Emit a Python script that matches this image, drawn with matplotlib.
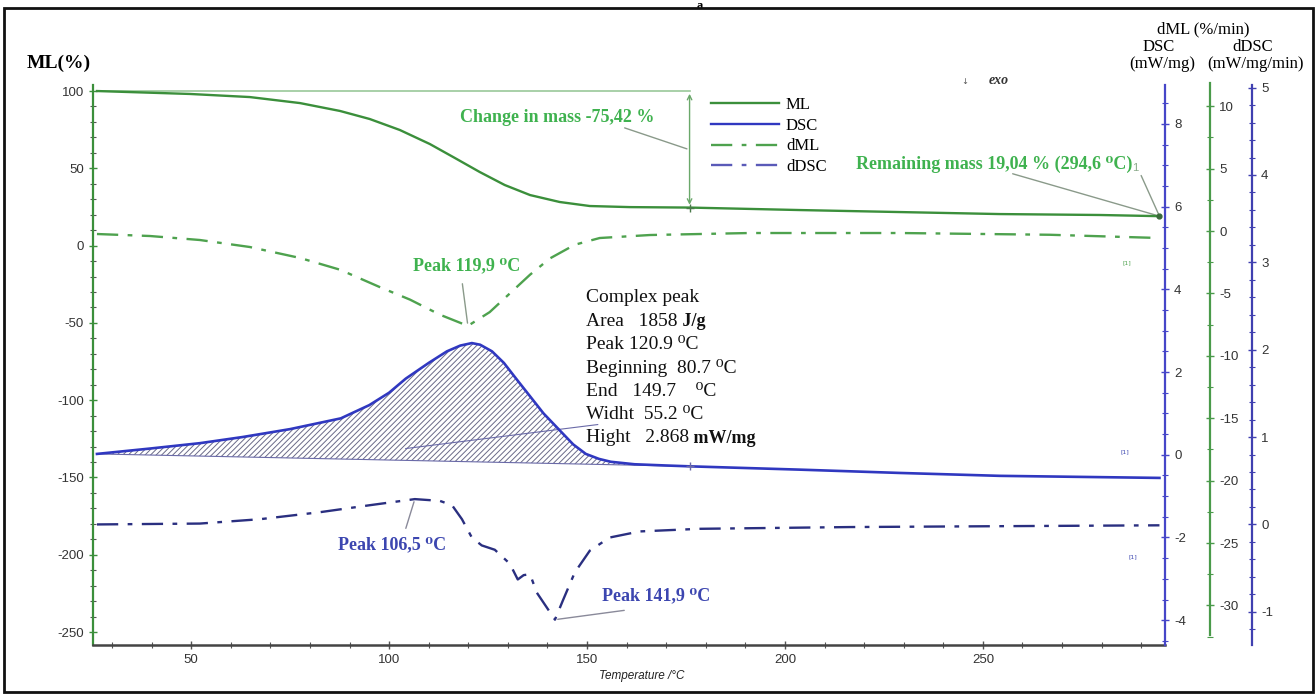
import matplotlib
matplotlib.use('Agg')
import matplotlib.pyplot as plt
import numpy as np
from matplotlib.ticker import MultipleLocator, FuncFormatter
from matplotlib.lines import Line2D
from matplotlib.patches import Rectangle

plt.rcParams['hatch.linewidth'] = 0.7

# ---------------- data ----------------
ml_T = [26.2, 49.7, 64.8, 77.5, 87.6, 95.1, 102.7, 110.3, 116.6, 122.9, 129.2,
        135.6, 143.1, 150.7, 160.8, 175.9, 203.7, 229.0, 254.2, 279.5, 294.6]
ml_val = [100.0, 98.1, 96.1, 92.2, 87.1, 81.9, 74.8, 65.7, 56.7, 47.6, 39.2,
          32.7, 28.2, 25.6, 24.9, 24.6, 23.0, 21.7, 20.4, 19.8, 19.04]

dml_T = [26.2, 39.6, 52.2, 64.8, 77.5, 87.6, 97.7, 105.3, 112.8, 119.9, 125.4,
         130.5, 135.6, 140.6, 146.9, 153.2, 165.9, 191.1, 229.0, 266.9, 294.6]
dml_val = [-0.24, -0.4, -0.72, -1.28, -2.16, -3.1, -4.5, -5.5, -6.7, -7.6, -6.5,
           -5.0, -3.5, -2.2, -1.1, -0.56, -0.32, -0.16, -0.16, -0.3, -0.56]

dsc_T = [26.2, 39.6, 52.2, 63.1, 75.0, 87.8, 95.0, 100.0, 104.2, 110.0, 114.6,
         118.0, 120.9, 123.0, 126.0, 129.0, 132.0, 135.3, 139.0, 143.4, 146.5,
         149.7, 153.0, 156.0, 162.0, 170.0, 175.9, 203.7, 229.0, 254.2, 294.6]
dsc_val = [0.02, 0.15, 0.28, 0.43, 0.62, 0.88, 1.2, 1.5, 1.84, 2.22, 2.5,
           2.64, 2.7, 2.66, 2.5, 2.22, 1.85, 1.45, 1.0, 0.56, 0.25,
           0.02, -0.1, -0.17, -0.23, -0.26, -0.28, -0.36, -0.44, -0.51, -0.56]

ddsc_T = [26.2, 52.2, 67.4, 82.5, 95.1, 106.5, 112.8, 115.9, 118.4, 120.9, 123.4,
          126.7, 130.5, 132.5, 134.0, 135.6, 137.3, 141.9, 143.9, 146.9, 150.7,
          155.7, 163.3, 178.5, 216.4, 254.2, 294.6]
ddsc_val = [0.0, 0.01, 0.06, 0.14, 0.22, 0.29, 0.27, 0.22, 0.06, -0.15, -0.24,
            -0.29, -0.45, -0.63, -0.58, -0.57, -0.78, -1.09, -0.87, -0.55, -0.30,
            -0.15, -0.08, -0.05, -0.03, -0.02, -0.01]

peak_text = ["Complex peak", "Area   1858", "Peak 120.9 \u2070C", "Beginning  80.7 \u2070C",
             "End   149.7    \u2070C", "Widht  55.2 \u2070C", "Hight   2.868"]

# ---------------- layout helpers ----------------
W, H = 1316, 695
fig = plt.figure(figsize=(W / 100, H / 100), dpi=100)

def fx(x):
    return x / W

def fy(y):
    return 1 - y / H

def fp(x, y):
    return (fx(x), fy(y))

SERIF = ['Liberation Serif', 'DejaVu Serif']
SANS = ['Liberation Sans', 'DejaVu Sans']
GREEN_L = '#3b8f3b'
GREEN_D = '#4ea24e'
GREEN_T = '#3fb24f'
BLUE = '#3038c0'
NAVY = '#2a2f80'
BLUE_T = '#3c46b0'

ax = fig.add_axes([fx(93), fy(645), fx(1165) - fx(93), fy(85) - fy(645)])
ax.set_xlim(25.2, 296)
ax.set_ylim(-258.4, 103.9)
ax.patch.set_alpha(0)

fmt = FuncFormatter(lambda v, p: f"{v:g}")

for s in ['top', 'right']:
    ax.spines[s].set_visible(False)
ax.spines['left'].set_color(GREEN_L)
ax.spines['left'].set_linewidth(1.6)
ax.spines['bottom'].set_color('#444444')
ax.spines['bottom'].set_linewidth(1.8)
ax.yaxis.set_major_locator(MultipleLocator(50))
ax.yaxis.set_minor_locator(MultipleLocator(10))
ax.xaxis.set_major_locator(MultipleLocator(50))
ax.xaxis.set_minor_locator(MultipleLocator(10))
ax.yaxis.set_major_formatter(fmt)
ax.xaxis.set_major_formatter(fmt)
ax.tick_params(axis='both', which='major', direction='inout', length=6, width=1,
               labelsize=9.5, labelcolor='#333333', colors='#555555')
ax.tick_params(axis='both', which='minor', direction='inout', length=4, width=0.8,
               colors='#555555')
ax.tick_params(axis='y', colors=GREEN_L, labelcolor='#333333')
for lab in ax.get_xticklabels() + ax.get_yticklabels():
    lab.set_family(SANS)

def setup_twin(tw, color, pos, lo, hi, major, minor, bounds=None):
    for s in ['left', 'top', 'bottom']:
        tw.spines[s].set_visible(False)
    tw.spines['right'].set_color(color)
    tw.spines['right'].set_linewidth(1.6)
    if pos is not None:
        tw.spines['right'].set_position(('axes', pos))
    if bounds is not None:
        tw.spines['right'].set_bounds(*bounds)
    tw.set_ylim(lo, hi)
    tw.yaxis.set_major_locator(MultipleLocator(major))
    tw.yaxis.set_minor_locator(MultipleLocator(minor))
    tw.yaxis.set_major_formatter(fmt)
    tw.tick_params(axis='y', which='major', direction='inout', length=6, width=1,
                   colors=color, labelcolor='#333333', labelsize=9.5)
    tw.tick_params(axis='y', which='minor', direction='inout', length=4, width=0.8,
                   colors=color)
    for lab in tw.get_yticklabels():
        lab.set_family(SANS)
    tw.patch.set_alpha(0)

ax_dsc = ax.twinx()
setup_twin(ax_dsc, '#4646c8', None, -4.6, 8.94, 2, 0.5)
ax_dml = ax.twinx()
setup_twin(ax_dml, '#4a9a4a', 1 + 45 / 1072, -33.17, 11.7, 5, 2.5, bounds=(-32.4, 11.9))
ax_ddsc = ax.twinx()
setup_twin(ax_ddsc, '#4040b0', 1 + 87 / 1072, -1.38, 5.03, 1, 0.2)

# ---------------- curves ----------------
dash_dot = (0, (9, 4, 2, 4))
ax.plot(ml_T, ml_val, color=GREEN_L, lw=1.7, zorder=5)
ax_dml.plot(dml_T, dml_val, color=GREEN_D, lw=1.7, ls=dash_dot, zorder=5)
ax_ddsc.plot(ddsc_T, ddsc_val, color=NAVY, lw=1.7, ls=dash_dot, zorder=5)
ax_dsc.plot(dsc_T, dsc_val, color=BLUE, lw=1.9, zorder=5)

# hatched peak area between DSC and straight baseline
t0, t1 = dsc_T[0], 175.9
b0, b1 = dsc_val[0], -0.28
Tf = np.array([t for t in dsc_T if t <= t1])
Vf = np.interp(Tf, dsc_T, dsc_val)
base = b0 + (b1 - b0) * (Tf - t0) / (t1 - t0)
ax_dsc.fill_between(Tf, Vf, base, facecolor='none', edgecolor='#6a6a88',
                    hatch='/' * 6, lw=0, zorder=3)
ax_dsc.plot([t0, t1], [b0, b1], color='#6a6aa8', lw=0.8, zorder=4)
ax_dsc.plot([104.2, 152.7], [0.15, 0.73], color='#6a6aa8', lw=0.8, zorder=4)
ax_dsc.plot([t1], [b1], marker='+', color='#6a6aa8', ms=6, zorder=6)

# reference line and change-in-mass arrow
ax.plot([ml_T[0], 175.9], [100, 100], color='#9ac89a', lw=1.2, zorder=2)
ax.annotate('', xy=(175.9, 24.6), xytext=(175.9, 100),
            arrowprops=dict(arrowstyle='<->', color='#6aa86a', lw=1.0,
                            mutation_scale=8), zorder=4)
ax.plot([175.9], [24.6], marker='+', color='#4a7a4a', ms=6, zorder=6)
ax.plot([ml_T[-1]], [ml_val[-1]], marker='o', color='#3a6a3a', ms=3.5, zorder=6)

# ---------------- legend ----------------
handles = [Line2D([], [], color=GREEN_L, lw=1.7),
           Line2D([], [], color=BLUE, lw=1.7),
           Line2D([], [], color=GREEN_D, lw=1.7, ls=dash_dot),
           Line2D([], [], color='#5a5ab8', lw=1.7, ls=dash_dot)]
leg = ax.legend(handles, ['ML', 'DSC', 'dML', 'dDSC'], loc='upper left',
                bbox_to_anchor=fp(711, 97), bbox_transform=fig.transFigure,
                frameon=False, borderpad=0, borderaxespad=0, handlelength=4.1,
                handletextpad=0.4, labelspacing=0.28,
                prop={'family': SERIF, 'size': 12})
leg.set_zorder(10)

# ---------------- annotations ----------------
bold_green = dict(color=GREEN_T, fontweight='bold', family=SERIF, fontsize=13)
bold_blue = dict(color=BLUE_T, fontweight='bold', family=SERIF, fontsize=13)
lead = dict(arrowstyle='-', color='#8a9a8a', lw=1.0)
lead_b = dict(arrowstyle='-', color='#8a8a9a', lw=1.0)

fig.text(*fp(460, 117), 'Change in mass -75,42 %', va='center', ha='left', **bold_green)
ax.annotate('', xy=(175.9, 62), xycoords='data', xytext=fp(622, 127),
            textcoords='figure fraction', arrowprops=lead)

rem = fig.text(*fp(856, 164), 'Remaining mass 19,04 % (294,6 \u2070C)', va='center',
               ha='left', **bold_green)
ax.annotate('', xy=(ml_T[-1], ml_val[-1]), xytext=fp(1010, 173),
            textcoords='figure fraction', arrowprops=lead)
ax.annotate('', xy=(ml_T[-1], ml_val[-1]), xytext=fp(1140, 173),
            textcoords='figure fraction', arrowprops=lead)

fig.text(*fp(413, 266), 'Peak 119,9 \u2070C', va='center', ha='left', **bold_green)
ax_dml.annotate('', xy=(119.9, -7.6), xytext=fp(462, 281),
                textcoords='figure fraction', arrowprops=lead)

fig.text(*fp(338, 545), 'Peak 106,5 \u2070C', va='center', ha='left', **bold_blue)
ax_ddsc.annotate('', xy=(106.5, 0.29), xytext=fp(405, 531),
                 textcoords='figure fraction', arrowprops=lead_b)

fig.text(*fp(602, 596), 'Peak 141,9 \u2070C', va='center', ha='left', **bold_blue)
ax_ddsc.annotate('', xy=(141.9, -1.09), xytext=fp(627, 610),
                 textcoords='figure fraction', arrowprops=lead_b)

# complex peak block
block = []
for i, line in enumerate(peak_text):
    block.append(fig.text(*fp(586, 298 + i * 23.3), line, va='center', ha='left',
                          family=SERIF, fontsize=14, color='#111111'))

fig.canvas.draw()
rend = fig.canvas.get_renderer()

def after(t, s, y, **kw):
    bb = t.get_window_extent(rend)
    fig.text(bb.x1 / W, fy(y), s, va='center', ha='left', **kw)

after(block[1], ' J/g', 298 + 23.3, family=SERIF, fontsize=13, fontweight='bold',
      color='#111111')
after(block[6], ' mW/mg', 298 + 6 * 23.3 + 1, family=SERIF, fontsize=13,
      fontweight='bold', color='#111111')
after(rem, '1', 168, color='#8aaa8a', fontsize=8, family=SANS)

# small [1] markers
fig.text(*fp(1127, 263), '[1]', color=GREEN_D, fontsize=4.5, ha='center', va='center')
fig.text(*fp(1125, 452), '[1]', color=BLUE_T, fontsize=4.5, ha='center', va='center')
fig.text(*fp(1133, 557), '[1]', color=BLUE_T, fontsize=4.5, ha='center', va='center')

# axis titles
fig.text(*fp(27, 63), 'ML(%)', va='center', ha='left', family=SERIF, fontsize=14,
         fontweight='bold')
fig.text(*fp(1203, 29), 'dML (%/min)', va='center', ha='center', family=SERIF, fontsize=12)
fig.text(*fp(1159, 47), 'DSC', va='center', ha='center', family=SERIF, fontsize=12)
fig.text(*fp(1162, 64), '(mW/mg)', va='center', ha='center', family=SERIF, fontsize=12)
fig.text(*fp(1253, 47), 'dDSC', va='center', ha='center', family=SERIF, fontsize=12)
fig.text(*fp(1256, 64), '(mW/mg/min)', va='center', ha='center', family=SERIF, fontsize=12)
fig.text(*fp(642, 676), 'Temperature /\u00b0C', va='center', ha='center', family=SANS,
         fontsize=8.5, style='italic', color='#222222')
fig.text(*fp(999, 80), 'exo', va='center', ha='center', family=SERIF, fontsize=10,
         style='italic', fontweight='bold', color='#333333')
fig.text(*fp(965, 82), '\u2193', va='center', ha='center', family=['DejaVu Sans'],
         fontsize=6, color='#555555')
fig.text(*fp(700, 0), 'a', va='top', ha='center', family=SERIF, fontsize=9,
         fontweight='bold')

# outer border
fig.patches.append(Rectangle(fp(4, 692), fx(1313) - fx(4), fy(8) - fy(692),
                             transform=fig.transFigure, fill=False,
                             edgecolor='#111111', lw=2, zorder=20))

fig.savefig('out.png', dpi=100)
